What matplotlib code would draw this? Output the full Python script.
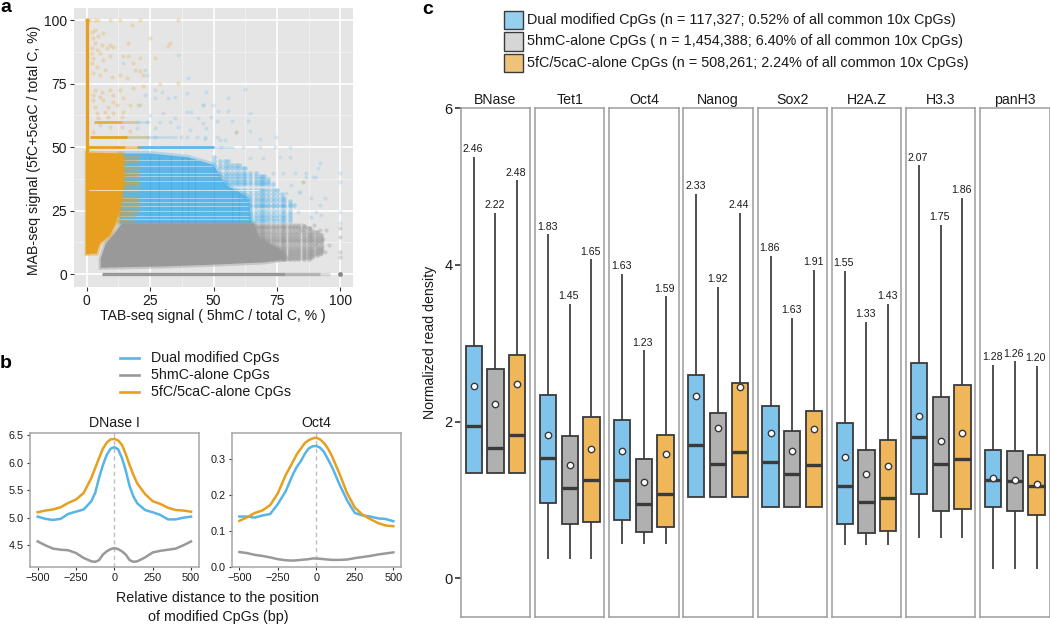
import matplotlib
matplotlib.use("Agg")
import matplotlib.pyplot as plt
from matplotlib.patches import Polygon, Rectangle
from matplotlib.path import Path

plt.rcParams["font.family"] = ["Liberation Sans", "DejaVu Sans"]

W, H = 1050, 624
BLUE = "#56b4e9"
GREY = "#999999"
ORANGE = "#e69f1e"
BOX_BLUE = "#80c4ec"
BOX_GREY = "#b0b0b0"
BOX_ORANGE = "#efb65a"
DARK = "#3a3a3a"
FRAME = "#9c9c9c"
TXT = "#1a1a1a"

# ---- panel a, outlines of the dense clouds (TAB %, MAB %)
orange_cloud = [(0, 8), (3.9, 8.1), (5.2, 12), (9.2, 15.3), (11.2, 19.3), (13.3, 26.5),
                (14.5, 35.7), (14.5, 44.9), (14, 47.5), (1.3, 47.8), (0, 47.8)]
orange_mixed = [(11, 18), (19, 20), (21, 30), (21, 47), (12, 47.5)]
blue_core = [(13, 20), (65, 20), (64, 30), (55, 35), (50, 43), (40, 46), (25, 47.5), (13, 47.5)]
blue_halo = [(64, 20), (80, 20), (82, 28), (76, 33), (70, 39), (60, 43), (50, 46.5), (35, 48),
             (50, 42), (55, 34), (63, 29)]
grey_core = [(5.5, 2.5), (30, 3), (50, 3.7), (70, 4.6), (79, 6), (76, 10), (68, 14), (66, 20),
             (14, 20), (11, 16), (7.5, 12), (5.5, 6)]
grey_halo = [(60, 20), (85, 20), (88, 18.5), (93, 16), (94, 9), (88, 5.7), (79, 5), (60, 4.5)]

# sparse points above and right of the clouds
orange_tab = [3.3, 6.6, 2, 2.6, 4.6, 3.3, 9.2, 5.9, 2, 7.9, 10.5, 3.9, 2, 5.2, 2.6, 9.2, 6.6, 16.4,
              17.7, 32.8, 32.2, 24.9, 14.4, 16.4, 21, 26.9, 18.4, 19, 21, 22.3, 13.1, 15.7, 2, 3.9,
              7.2, 2.6, 5.2, 9.8, 3.3, 5.9, 9.2, 2.6, 5.2, 10.5, 13.1, 18.4, 22.3, 28.9, 36.1, 2.6,
              6.6, 10.5, 14.4, 3.3, 8.5, 11.8, 17, 20.3, 3.9, 7.2, 10.5, 14.4, 4.6, 8.5, 13.8, 5.2,
              9.2, 13.8, 2.6, 17, 1.3, 3.3, 4.6, 9.2, 13.1, 21, 36, 58.8, 85.3]
orange_mab = [96.2, 94.9, 95.5, 92.9, 93.6, 90.9, 90.3, 90.3, 89, 89, 89.6, 88.3, 87, 87, 85, 85.7, 84.4, 90.9,
              98.2, 90.9, 90, 92.9, 85.7, 85.7, 85, 85, 83, 80.4, 79.8, 78.4, 78.4, 77.1, 83, 81.7,
              80.4, 79.1, 78.4, 77.8, 72.5, 71.9, 72.5, 70.6, 69.9, 70.6, 72.5, 73.2, 73.9, 74.9, 75.2, 68.6,
              68.6, 67.9, 69.3, 66, 66, 66.6, 66.6, 66.6, 63.3, 64, 63.3, 64, 61.4, 62, 62, 58.7,
              58.1, 58.1, 56.1, 56.5, 100, 100, 100, 100, 100, 100, 100, 56.1, 36.4]
blue_tab = [62.3, 55.8, 45.9, 49.9, 51.8, 55.8, 64.3, 51.2, 57.1, 63.6, 58.8, 64.3, 68.2, 52.5, 54.4, 74.8,
            74.1, 80, 68.2, 61.7, 53.1, 46.6, 45.9, 76.1, 80, 69.5, 64.3, 91.8, 91.2, 99.7, 86.6, 89.2,
            99.7, 85.3, 82, 77.4, 73.5, 84, 14.4, 23, 23.6, 40, 36.1, 26.9, 29.5, 23, 26.9, 32.2, 34.8,
            39.4, 47.2, 45.9, 21, 30.2, 39.4, 41.3, 24.9, 34.8, 44, 49.2, 28.9, 32.8, 23.6, 20.3, 36.1,
            26.9, 19.7, 40.7, 47.2, 24, 27, 35, 37, 39.4, 43.3, 46.6, 51.2, 99.7, 99.7, 91.8, 93.8, 88.5,
            86.6, 90.5, 83.9, 80.6, 80, 80, 83.3, 90.5, 88.5, 78.7, 74.7, 92.5]
blue_mab = [72.8, 69.3, 66.7, 66.7, 64.4, 64.4, 63.6, 60.1, 60.1, 60.1, 56.1, 56.4, 53.3, 52.9, 52.9, 53.9,
            50, 50, 50, 50, 50, 53.1, 59.4, 46.3, 46.3, 45.6, 45.6, 43.7, 41.7, 39.7, 39.7, 38.1,
            36.4, 36.4, 39.7, 39.7, 39.7, 32.5, 83, 80.4, 78.4, 77.1, 86.3, 72.5, 71.9, 70.6, 69.3, 69.3, 69.9,
            71.2, 71.9, 66.6, 66.6, 63.3, 64, 64, 62.7, 61.4, 61.4, 62, 60, 60, 60, 60, 58,
            57.4, 57.4, 56.8, 57.4, 54, 54, 54, 54, 54, 54, 54, 54, 24.6, 20, 27.2, 29.8, 29.8,
            38.4, 38.4, 32.5, 35.1, 27.9, 23.9, 24.6, 24.6, 22.6, 31.8, 33.1, 23.3]
grey_tab = [99.7, 99.7, 99.7, 99.7, 95.7, 93.8, 94.4, 91.8, 89.8, 87.9, 84.6, 93.1, 91.8, 90, 92, 88]
grey_mab = [18, 14.7, 8.8, 6.6, 11.4, 8.8, 17.3, 17.3, 19.3, 18, 17.3, 14, 8, 12, 10, 15]

# stripes of repeated values: (MAB %, TAB from, TAB to, strength)
orange_rows = [(60, 3, 14, 0.8), (60, 14, 20, 0.3), (54, 1.5, 16, 1.0), (54, 16, 24, 0.3),
               (50, 0, 15, 1.0), (50, 15, 21, 0.55)]
blue_rows = [(60, 14, 25, 0.2), (54, 14, 34, 0.25), (50, 20, 50, 0.95), (50, 50, 58, 0.25)]
pale_rows = [45, 42.5, 40, 38.5, 36.5, 30, 28.5, 26.7, 25, 23, 21.5]
dark_blue_cols = [25, 28.6, 33.3, 37.5, 40, 42.9, 50, 57.1, 60]

# repeated fractions seen as vertical and horizontal bands at the cloud edges
blue_cols = [50, 52.6, 54.5, 55.6, 57.1, 58.8, 60, 61.5, 62.5, 64.3, 66.7, 68.2, 69.2, 70, 71.4, 73.3, 75,
             76.9, 77.8, 80, 81.8]
blue_levels = [21, 22.2, 23.1, 25, 26.7, 27.3, 28.6, 30, 31.6, 33.3, 35.3, 36.4, 37.5, 38.5, 40, 41.7, 42.9,
               44.4, 46.2, 47.4]
grey_cols = [62.5, 64.3, 66.7, 68.2, 69.2, 70, 71.4, 73.3, 75, 76.9, 77.8, 80, 81.8, 83.3, 85.7, 87.5, 88.9,
             90.9, 92.3]
grey_levels = [5.9, 6.7, 7.7, 8.3, 9.1, 10, 11.1, 12.5, 13.3, 14.3, 15.4, 16.7, 18.2, 19]
mix_cols = [12.5, 13.3, 14.3, 15.4, 16.7, 18.2, 20]
mix_levels = [21, 23.1, 25, 26.7, 28.6, 30, 33.3, 35.3, 36.4, 38.5, 40, 41.7, 44.4, 46.2]

# ---- panel b
dist_x = [-500, -450, -400, -350, -300, -250, -200, -150, -125, -100, -75, -50, -25, 0,
          25, 50, 75, 100, 125, 150, 200, 250, 300, 350, 400, 450, 500]
dnase_dual = [5.02, 4.98, 4.96, 4.98, 5.07, 5.11, 5.15, 5.30, 5.45, 5.72, 5.95, 6.14, 6.25, 6.28,
              6.24, 6.08, 5.85, 5.57, 5.38, 5.26, 5.14, 5.10, 5.05, 4.97, 4.97, 5.00, 5.02]
dnase_5hmc = [4.57, 4.50, 4.44, 4.42, 4.41, 4.36, 4.27, 4.21, 4.20, 4.23, 4.33, 4.39, 4.43, 4.45,
              4.43, 4.39, 4.33, 4.23, 4.20, 4.21, 4.28, 4.37, 4.40, 4.42, 4.44, 4.50, 4.57]
dnase_5fc = [5.10, 5.13, 5.15, 5.19, 5.27, 5.33, 5.45, 5.72, 5.90, 6.08, 6.25, 6.36, 6.42, 6.43,
             6.40, 6.32, 6.15, 5.95, 5.77, 5.62, 5.43, 5.30, 5.25, 5.18, 5.14, 5.13, 5.11]
oct4_dual = [.140, .140, .137, .143, .147, .175, .210, .260, .280, .295, .315, .330, .336, .337,
             .332, .320, .300, .280, .255, .230, .185, .150, .143, .140, .135, .133, .127]
oct4_5hmc = [.041, .038, .033, .030, .026, .021, .018, .017, .018, .019, .020, .021, .023, .023,
             .022, .021, .020, .019, .019, .019, .020, .024, .027, .030, .034, .037, .040]
oct4_5fc = [.128, .138, .150, .157, .172, .205, .255, .295, .315, .330, .345, .353, .358, .360,
            .355, .345, .330, .310, .285, .260, .205, .165, .145, .133, .122, .115, .113]

# ---- panel c, three values per factor in the order dual, 5hmC, 5fC/5caC
factors = ["BNase", "Tet1", "Oct4", "Nanog", "Sox2", "H2A.Z", "H3.3", "panH3"]
whisker_hi = [[5.38, 4.66, 5.08], [4.39, 3.50, 4.07], [3.89, 2.91, 3.60], [4.91, 3.72, 4.66],
              [4.12, 3.32, 3.94], [3.92, 3.27, 3.50], [5.27, 4.51, 4.86], [2.72, 2.77, 2.71]]
box_q3 = [[2.97, 2.67, 2.85], [2.34, 1.82, 2.06], [2.02, 1.52, 1.83], [2.59, 2.11, 2.49],
          [2.20, 1.88, 2.13], [1.98, 1.64, 1.77], [2.75, 2.32, 2.47], [1.64, 1.63, 1.57]]
box_med = [[1.95, 1.66, 1.83], [1.54, 1.15, 1.25], [1.25, 0.95, 1.08], [1.70, 1.46, 1.61],
           [1.49, 1.33, 1.44], [1.18, 0.97, 1.03], [1.80, 1.46, 1.52], [1.26, 1.24, 1.18]]
box_q1 = [[1.34, 1.34, 1.34], [0.96, 0.69, 0.72], [0.75, 0.59, 0.65], [1.04, 1.04, 1.04],
          [0.91, 0.91, 0.91], [0.69, 0.58, 0.61], [1.08, 0.86, 0.88], [0.91, 0.86, 0.81]]
whisker_lo = [[1.34, 1.34, 1.34], [0.25, 0.25, 0.25], [0.44, 0.44, 0.44], [1.04, 1.04, 1.04],
              [0.91, 0.91, 0.91], [0.43, 0.43, 0.43], [0.51, 0.51, 0.51], [0.12, 0.12, 0.12]]
box_mean = [[2.46, 2.22, 2.48], [1.83, 1.45, 1.65], [1.63, 1.23, 1.59], [2.33, 1.92, 2.44],
            [1.86, 1.63, 1.91], [1.55, 1.33, 1.43], [2.07, 1.75, 1.86], [1.28, 1.26, 1.20]]

legend_c = ["Dual modified CpGs (n = 117,327; 0.52% of all common 10x CpGs)",
            "5hmC-alone CpGs ( n = 1,454,388; 6.40% of all common 10x CpGs)",
            "5fC/5caC-alone CpGs (n = 508,261; 2.24% of all common 10x CpGs)"]
legend_b = ["Dual modified CpGs", "5hmC-alone CpGs", "5fC/5caC-alone CpGs"]


def px_axes(fig, left, top, right, bottom):
    return fig.add_axes([left / W, 1 - bottom / H, (right - left) / W, (bottom - top) / H])


def bands_inside(cols, levels, outline):
    # keep the repeated value pairs that fall inside a cloud outline
    path = Path(outline + [outline[0]])
    pairs = [(c, r) for c in cols for r in levels if path.contains_point((c, r))]
    return [p[0] for p in pairs], [p[1] for p in pairs]


fig = plt.figure(figsize=(W / 100, H / 100), dpi=100)

# ---------- a
ax = px_axes(fig, 74, 8, 353, 287)
ax.set_facecolor("#e5e5e5")
ax.set_xlim(-5, 105)
ax.set_ylim(-5.1, 104.8)
ax.set_xticks([0, 25, 50, 75, 100])
ax.set_yticks([0, 25, 50, 75, 100])
ax.set_xticks([12.5, 37.5, 62.5, 87.5], minor=True)
ax.set_yticks([12.5, 37.5, 62.5, 87.5], minor=True)
ax.grid(True, which="major", color="white", lw=1.2, zorder=0)
ax.grid(True, which="minor", color="#f2f2f2", lw=0.6, zorder=0)
ax.set_axisbelow(True)
for s in ax.spines.values():
    s.set_visible(False)
ax.tick_params(which="minor", length=0)
ax.tick_params(which="major", length=3, width=0.8, color="#333333", labelsize=10, labelcolor=TXT, pad=2)

# soft edge first, then the solid cloud
ax.add_patch(Polygon(blue_core, fc="none", ec=BLUE, lw=3.5, alpha=0.35, zorder=2))
blue_patch = Polygon(blue_core, fc=BLUE, ec="none", alpha=0.95, zorder=2)
ax.add_patch(blue_patch)
for c in dark_blue_cols:
    line, = ax.plot([c, c], [20, 47], color="#3f9fd8", lw=0.9, alpha=0.45, zorder=3)
    line.set_clip_path(blue_patch)
for r in pale_rows:
    line, = ax.plot([13, 70], [r, r], color="#dff0fa", lw=0.5, alpha=0.75, zorder=3)
    line.set_clip_path(blue_patch)
bx, by = bands_inside(blue_cols, blue_levels, blue_halo)
ax.scatter(bx, by, s=11, color=BLUE, alpha=0.4, lw=0, zorder=3)

mx, my = bands_inside(mix_cols, mix_levels, orange_mixed)
ax.scatter(mx, my, s=12, color=ORANGE, alpha=0.35, lw=0, zorder=4)

ax.add_patch(Polygon(grey_halo, fc=GREY, ec="none", alpha=0.25, zorder=4))
gx, gy = bands_inside(grey_cols, grey_levels, grey_halo)
ax.scatter(gx, gy, s=12, color=GREY, alpha=0.45, lw=0, zorder=4)
ax.add_patch(Polygon(grey_core, fc="none", ec=GREY, lw=3, alpha=0.4, zorder=5))
ax.add_patch(Polygon(grey_core, fc=GREY, ec="none", zorder=5))
ax.add_patch(Polygon(orange_cloud, fc="none", ec=ORANGE, lw=3, alpha=0.45, zorder=5))
ax.add_patch(Polygon(orange_cloud, fc=ORANGE, ec="none", zorder=5))
ax.plot([0, 68], [33.3, 33.3], color="white", lw=0.6, alpha=0.75, zorder=6)

ax.scatter(blue_tab, blue_mab, s=9, color=BLUE, alpha=0.2, lw=0, zorder=3)
ax.scatter(orange_tab, orange_mab, s=9, color=ORANGE, alpha=0.25, lw=0, zorder=3)
ax.scatter(grey_tab, grey_mab, s=9, color=GREY, alpha=0.35, lw=0, zorder=3)
for mab, x0, x1, al in blue_rows:
    ax.plot([x0, x1], [mab, mab], color=BLUE, lw=2.0, alpha=al, solid_capstyle="butt", zorder=4)
for mab, x0, x1, al in orange_rows:
    ax.plot([x0, x1], [mab, mab], color=ORANGE, lw=2.0, alpha=al, solid_capstyle="butt", zorder=4)
ax.plot([0, 0], [8, 100], color=ORANGE, lw=2.4, solid_capstyle="butt", zorder=6)
ax.scatter([0], [100], s=9, color=ORANGE, lw=0, zorder=6)
ax.plot([6, 78], [0, 0], color=GREY, lw=2.4, solid_capstyle="butt", zorder=6)
ax.plot([78, 92], [0, 0], color=GREY, lw=2.4, alpha=0.7, solid_capstyle="butt", zorder=6)
ax.plot([92, 96], [0, 0], color=GREY, lw=2.4, alpha=0.3, solid_capstyle="butt", zorder=6)
ax.scatter([100], [0], s=12, color="#888888", lw=0, zorder=6)
fig.text(213 / W, 1 - 316 / H, "TAB-seq signal ( 5hmC / total C, % )", ha="center", va="center",
         fontsize=10.1, color=TXT)
fig.text(34 / W, 1 - 150 / H, "MAB-seq signal (5fC+5caC / total C, %)", ha="center", va="center",
         rotation=90, fontsize=10.15, color=TXT)

# ---------- b
ax_d = px_axes(fig, 30, 432.7, 198.7, 566.7)
ax_o = px_axes(fig, 231.7, 432.7, 401, 566.7)
for a, title, series in [(ax_d, "DNase I", (dnase_dual, dnase_5hmc, dnase_5fc)),
                         (ax_o, "Oct4", (oct4_dual, oct4_5hmc, oct4_5fc))]:
    a.axvline(0, color="#bdbdbd", lw=1, ls=(0, (3, 2.5)), zorder=1)
    for vals, col in zip(series, (BLUE, GREY, ORANGE)):
        a.plot(dist_x, vals, color=col, lw=1.8, zorder=3)
    a.set_xlim(-550, 550)
    a.set_xticks([-500, -250, 0, 250, 500])
    a.tick_params(labelsize=7.8, length=2.5, width=0.8, color="#333333", labelcolor=TXT, pad=2)
    for s in a.spines.values():
        s.set_color("#a6a6a6")
        s.set_linewidth(1.1)
    a.set_title(title, fontsize=10.2, color=TXT, pad=4)
ax_d.set_ylim(4.112, 6.542)
ax_d.set_yticks([4.5, 5.0, 5.5, 6.0, 6.5])
ax_o.set_ylim(0, 0.374)
ax_o.set_yticks([0.0, 0.1, 0.2, 0.3])

for lab, col, y in zip(legend_b, (BLUE, GREY, ORANGE), (357.7, 374.5, 391.7)):
    fig.add_artist(plt.Line2D([120 / W, 139 / W], [1 - y / H, 1 - y / H], color=col, lw=1.9))
    fig.text(150.7 / W, 1 - y / H, lab, ha="left", va="center", fontsize=10.3, color=TXT)
fig.text(218 / W, 1 - 598 / H, "Relative distance to the position", ha="center", va="center",
         fontsize=10.25, color=TXT)
fig.text(218 / W, 1 - 616.5 / H, "of modified CpGs (bp)", ha="center", va="center", fontsize=10.25, color=TXT)

# ---------- c
box_cols = (BOX_BLUE, BOX_GREY, BOX_ORANGE)
for i, name in enumerate(factors):
    left = 460.7 + i * 74.2
    a = px_axes(fig, left, 108.3, left + 69.5, 617.3)
    a.set_xlim(0.4, 3.6)
    a.set_ylim(-0.498, 6)
    a.set_xticks([])
    for s in a.spines.values():
        s.set_color(FRAME)
        s.set_linewidth(1.1)
    a.set_title(name, fontsize=10.2, color=TXT, pad=3)
    if i == 0:
        a.set_yticks([0, 2, 4, 6])
        a.tick_params(axis="y", labelsize=10.5, length=4, width=1.1, color="#222222", labelcolor=TXT, pad=2)
    else:
        a.set_yticks([])
    for j in range(3):
        x = j + 1
        a.plot([x, x], [whisker_lo[i][j], whisker_hi[i][j]], color=DARK, lw=1.25, zorder=2,
               solid_capstyle="butt")
        a.add_patch(Rectangle((x - 0.375, box_q1[i][j]), 0.75, box_q3[i][j] - box_q1[i][j],
                              fc=box_cols[j], ec=DARK, lw=1.3, zorder=3))
        a.plot([x - 0.375, x + 0.375], [box_med[i][j], box_med[i][j]], color=DARK, lw=2.4,
               solid_capstyle="butt", zorder=4)
        a.plot(x, box_mean[i][j], "o", ms=4.6, mfc="white", mec=DARK, mew=1.0, zorder=5)
        a.annotate(f"{box_mean[i][j]:.2f}", (x, whisker_hi[i][j]), xytext=(-0.7, 2.0),
                   textcoords="offset points", ha="center", va="bottom", fontsize=7.6, color=TXT,
                   annotation_clip=False, zorder=6)

for lab, col, (y0, y1) in zip(legend_c, ("#97d0ef", "#d6d6d6", "#efc27a"),
                              ((11, 29.3), (32, 50.7), (54, 72))):
    fig.add_artist(Rectangle((504.3 / W, 1 - y1 / H), 18.4 / W, (y1 - y0) / H, fc=col, ec=DARK, lw=1.0,
                             transform=fig.transFigure))
    fig.text(527 / W, 1 - (y0 + y1) / 2 / H, lab, ha="left", va="center", fontsize=10.33, color=TXT)
fig.text(430 / W, 1 - 342 / H, "Normalized read density", ha="center", va="center", rotation=90,
         fontsize=10.2, color=TXT)

# panel letters
fig.text(0 / W, 1 - 8 / H, "a", fontsize=14, fontweight="bold", ha="left", va="center")
fig.text(0 / W, 1 - 363 / H, "b", fontsize=14, fontweight="bold", ha="left", va="center")
fig.text(422 / W, 1 - 9 / H, "c", fontsize=14, fontweight="bold", ha="left", va="center")

fig.savefig("out.png", dpi=100)
